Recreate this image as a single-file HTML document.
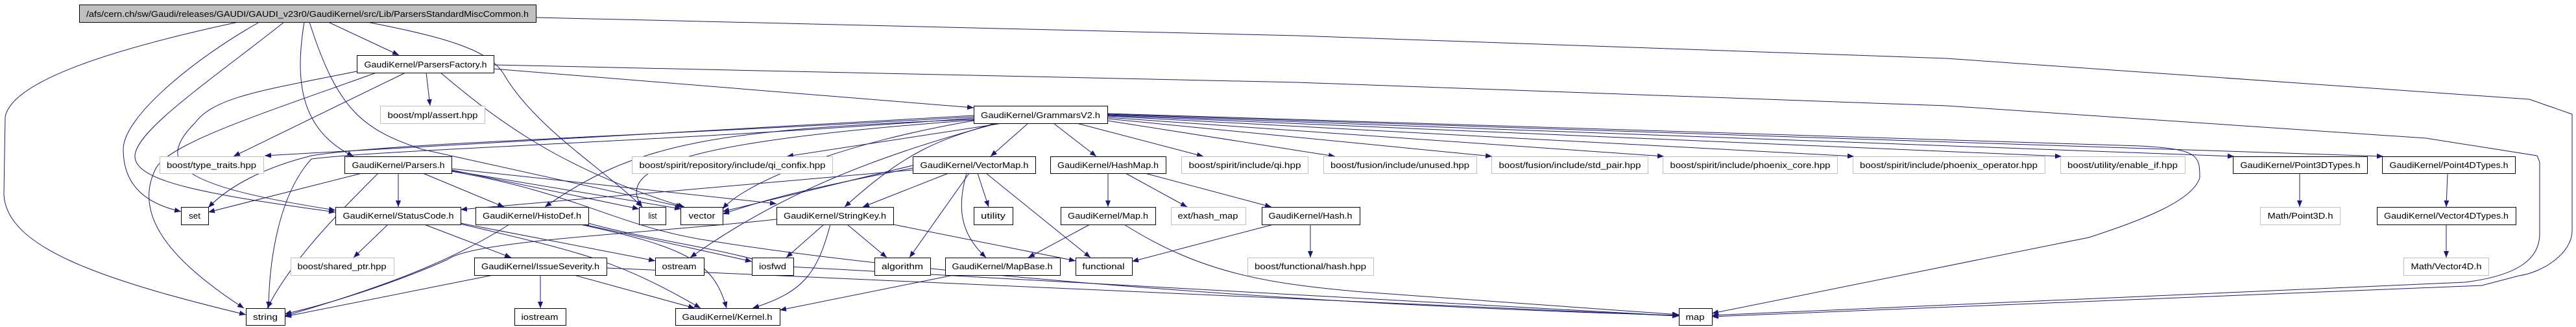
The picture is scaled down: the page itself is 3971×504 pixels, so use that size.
<!DOCTYPE html>
<html><head><meta charset="utf-8"><style>
html,body{margin:0;padding:0;background:#fff;}
svg{display:block;}
text{font-family:"Liberation Sans",sans-serif;font-size:13px;fill:#000;}
</style></head><body>
<svg width="3971" height="504" viewBox="0 0 3971 504" xmlns="http://www.w3.org/2000/svg">
<defs><marker id="a" markerUnits="userSpaceOnUse" markerWidth="10" markerHeight="8" refX="10" refY="4" orient="auto"><path d="M0,0 L10,4 L0,8 z" fill="#191970"/></marker></defs>
<g fill="none" stroke="#191970" stroke-width="1" marker-end="url(#a)">
<path d="M367,34 C200,70 20,120 8,180 L6,300 C10,380 150,430 379,485"/>
<path d="M400,34 C300,90 190,180 190,230 C190,290 230,315 279,326"/>
<path d="M438,34 C330,120 210,200 208,240 C206,280 320,300 517,327"/>
<path d="M469,34 C455,120 460,200 545,241"/>
<path d="M477,34 C520,170 560,200 650,230 L1052,319"/>
<path d="M506,34 L615,85"/>
<path d="M566,34 C700,60 760,80 780,120 C830,200 930,260 990,319"/>
<path d="M826,27 L1000,31 L2000,55 L3000,90 L3899,153 L3965,176 L3965,356 C3965,390 3920,420 3883,425 L3826,440 L2639,488"/>
<path d="M761,106 L1501,166"/>
<path d="M761,100 L2000,127 L3000,163 L3740,213 L3911,240 L3915,250 L3915,360 C3915,400 3880,425 3800,435 L2639,486"/>
<path d="M657,112 L663,163"/>
<path d="M625,112 L360,241"/>
<path d="M550,110 C400,140 330,150 300,190 C230,260 300,290 517,324"/>
<path d="M580,112 C420,170 260,220 240,260 C205,330 260,400 376,475"/>
<path d="M679,112 C760,180 860,260 1055,319"/>
<path d="M614,267 L614,319"/>
<path d="M652,267 L777,319"/>
<path d="M558,267 L321,327"/>
<path d="M583,267 C520,330 450,400 412,475"/>
<path d="M696,262 L985,322"/>
<path d="M696,263 L1050,322"/>
<path d="M696,260 L1197,314"/>
<path d="M696,264 C900,300 950,350 1100,372 C1400,420 2000,470 2588,486"/>
<path d="M1545,190 L1213,241"/>
<path d="M1585,190 L1527,241"/>
<path d="M1624,190 L1690,241"/>
<path d="M1660,190 L1855,241"/>
<path d="M1707,186 L2058,241"/>
<path d="M1707,183 L2300,241"/>
<path d="M1707,181 L2565,241"/>
<path d="M1707,179 L2858,241"/>
<path d="M1707,178 L3178,241"/>
<path d="M1707,177 L3444,241"/>
<path d="M1707,176 L3674,241"/>
<path d="M1707,175 L3300,225 C3390,230 3391,240 3391,274 C3380,310 3300,340 3220,366 L2639,483"/>
<path d="M1501,178 L408,240"/>
<path d="M1501,180 C1000,210 600,220 480,240 C400,260 350,290 321,320"/>
<path d="M1501,182 C1000,220 600,230 480,245 C430,300 415,400 414,475"/>
<path d="M1501,185 C1100,215 940,250 990,319"/>
<path d="M1501,184 C1100,200 980,220 840,319"/>
<path d="M1501,186 C1300,220 1150,280 1114,322"/>
<path d="M1534,190 C1450,215 1400,230 1302,319"/>
<path d="M1538,190 C1350,240 1200,300 1064,397"/>
<path d="M1407,255 L1114,326"/>
<path d="M1407,259 C1300,280 1200,300 1114,330"/>
<path d="M1407,262 L710,323"/>
<path d="M1462,267 L1330,319"/>
<path d="M1494,267 L1402,397"/>
<path d="M1507,267 L1524,319"/>
<path d="M1490,267 C1475,320 1480,360 1520,397"/>
<path d="M1520,267 L1681,397"/>
<path d="M1708,267 L1708,319"/>
<path d="M1735,267 L1830,319"/>
<path d="M1765,267 L1960,319"/>
<path d="M1680,346 L1585,397"/>
<path d="M1733,346 C1850,420 1950,437 2100,450 L2588,485"/>
<path d="M2020,346 L2020,397"/>
<path d="M1963,346 L1745,403"/>
<path d="M1270,346 L1212,397"/>
<path d="M1306,346 L1367,397"/>
<path d="M1280,346 C1260,420 1240,450 1160,475"/>
<path d="M1377,346 L1658,402"/>
<path d="M1197,338 C1000,360 730,370 690,400 C600,440 500,470 439,484"/>
<path d="M1470,424 L1202,478"/>
<path d="M598,346 L545,397"/>
<path d="M654,346 L788,397"/>
<path d="M710,344 L1010,402"/>
<path d="M705,344 C900,390 950,400 1080,475"/>
<path d="M785,346 C700,400 600,440 439,487"/>
<path d="M900,346 L1159,403"/>
<path d="M895,346 C1050,380 1100,400 1120,475"/>
<path d="M907,344 C1000,370 1100,380 1200,410 L2588,487"/>
<path d="M833,424 L833,475"/>
<path d="M760,424 L439,488"/>
<path d="M885,424 L1071,475"/>
<path d="M935,413 L2588,487"/>
<path d="M3545,267 L3545,319"/>
<path d="M3773,267 L3771,319"/>
<path d="M3771,346 L3771,397"/>
</g>
<g stroke-width="1">
<g fill="#fff" stroke="#000">
<rect x="122.5" y="7.5" width="704" height="27" fill="#bfbfbf"/>
<rect x="550.5" y="85.5" width="211" height="27"/>
<rect x="1501.5" y="163.5" width="206" height="27"/>
<rect x="531.5" y="241.5" width="165" height="26"/>
<rect x="1407.5" y="241.5" width="189" height="26"/>
<rect x="1619.5" y="241.5" width="178" height="26"/>
<rect x="3442.5" y="241.5" width="207" height="26"/>
<rect x="3672.5" y="241.5" width="205" height="26"/>
<rect x="279.5" y="319.5" width="42" height="27"/>
<rect x="517.5" y="319.5" width="193" height="27"/>
<rect x="733.5" y="319.5" width="174" height="27"/>
<rect x="985.5" y="319.5" width="41" height="27"/>
<rect x="1049.5" y="319.5" width="65" height="27"/>
<rect x="1197.5" y="319.5" width="180" height="27"/>
<rect x="1501.5" y="319.5" width="60" height="27"/>
<rect x="1635.5" y="319.5" width="146" height="27"/>
<rect x="1945.5" y="319.5" width="151" height="27"/>
<rect x="3664.5" y="319.5" width="214" height="27"/>
<rect x="731.5" y="397.5" width="204" height="27"/>
<rect x="1010.5" y="397.5" width="75" height="27"/>
<rect x="1159.5" y="397.5" width="64" height="27"/>
<rect x="1348.5" y="397.5" width="86" height="27"/>
<rect x="1457.5" y="397.5" width="177" height="27"/>
<rect x="1658.5" y="397.5" width="87" height="27"/>
<rect x="379.5" y="475.5" width="60" height="26"/>
<rect x="793.5" y="475.5" width="79" height="26"/>
<rect x="1041.5" y="475.5" width="161" height="26"/>
<rect x="2588.5" y="475.5" width="51" height="26"/>
</g>
<g fill="#fff" stroke="#bfbfbf">
<rect x="586.5" y="163.5" width="161" height="27"/>
<rect x="246.5" y="241.5" width="160" height="26"/>
<rect x="974.5" y="241.5" width="309" height="26"/>
<rect x="1821.5" y="241.5" width="195" height="26"/>
<rect x="2040.5" y="241.5" width="236" height="26"/>
<rect x="2299.5" y="241.5" width="241" height="26"/>
<rect x="2563.5" y="241.5" width="269" height="26"/>
<rect x="2856.5" y="241.5" width="296" height="26"/>
<rect x="3176.5" y="241.5" width="192" height="26"/>
<rect x="1805.5" y="319.5" width="115" height="27"/>
<rect x="3484.5" y="319.5" width="123" height="27"/>
<rect x="448.5" y="397.5" width="159" height="27"/>
<rect x="1923.5" y="397.5" width="194" height="27"/>
<rect x="3705.5" y="397.5" width="131" height="27"/>
</g>
</g>
<g text-anchor="middle" lengthAdjust="spacingAndGlyphs">
<text x="474" y="26" textLength="682" lengthAdjust="spacingAndGlyphs">/afs/cern.ch/sw/Gaudi/releases/GAUDI/GAUDI_v23r0/GaudiKernel/src/Lib/ParsersStandardMiscCommon.h</text>
<text x="656" y="104" textLength="189" lengthAdjust="spacingAndGlyphs">GaudiKernel/ParsersFactory.h</text>
<text x="1604" y="182" textLength="184" lengthAdjust="spacingAndGlyphs">GaudiKernel/GrammarsV2.h</text>
<text x="667" y="182" textLength="139" lengthAdjust="spacingAndGlyphs">boost/mpl/assert.hpp</text>
<text x="326" y="259" textLength="138" lengthAdjust="spacingAndGlyphs">boost/type_traits.hpp</text>
<text x="614" y="259" textLength="143" lengthAdjust="spacingAndGlyphs">GaudiKernel/Parsers.h</text>
<text x="1129" y="259" textLength="287" lengthAdjust="spacingAndGlyphs">boost/spirit/repository/include/qi_confix.hpp</text>
<text x="1502" y="259" textLength="167" lengthAdjust="spacingAndGlyphs">GaudiKernel/VectorMap.h</text>
<text x="1708" y="259" textLength="156" lengthAdjust="spacingAndGlyphs">GaudiKernel/HashMap.h</text>
<text x="1919" y="259" textLength="173" lengthAdjust="spacingAndGlyphs">boost/spirit/include/qi.hpp</text>
<text x="2158" y="259" textLength="214" lengthAdjust="spacingAndGlyphs">boost/fusion/include/unused.hpp</text>
<text x="2420" y="259" textLength="219" lengthAdjust="spacingAndGlyphs">boost/fusion/include/std_pair.hpp</text>
<text x="2698" y="259" textLength="247" lengthAdjust="spacingAndGlyphs">boost/spirit/include/phoenix_core.hpp</text>
<text x="3004" y="259" textLength="274" lengthAdjust="spacingAndGlyphs">boost/spirit/include/phoenix_operator.hpp</text>
<text x="3272" y="259" textLength="170" lengthAdjust="spacingAndGlyphs">boost/utility/enable_if.hpp</text>
<text x="3546" y="259" textLength="185" lengthAdjust="spacingAndGlyphs">GaudiKernel/Point3DTypes.h</text>
<text x="3775" y="259" textLength="183" lengthAdjust="spacingAndGlyphs">GaudiKernel/Point4DTypes.h</text>
<text x="300" y="337" textLength="18" lengthAdjust="spacingAndGlyphs">set</text>
<text x="614" y="337" textLength="171" lengthAdjust="spacingAndGlyphs">GaudiKernel/StatusCode.h</text>
<text x="820" y="337" textLength="152" lengthAdjust="spacingAndGlyphs">GaudiKernel/HistoDef.h</text>
<text x="1006" y="337" textLength="13" lengthAdjust="spacingAndGlyphs">list</text>
<text x="1082" y="337" textLength="41" lengthAdjust="spacingAndGlyphs">vector</text>
<text x="1287" y="337" textLength="158" lengthAdjust="spacingAndGlyphs">GaudiKernel/StringKey.h</text>
<text x="1531" y="337" textLength="38" lengthAdjust="spacingAndGlyphs">utility</text>
<text x="1708" y="337" textLength="124" lengthAdjust="spacingAndGlyphs">GaudiKernel/Map.h</text>
<text x="1862" y="337" textLength="93" lengthAdjust="spacingAndGlyphs">ext/hash_map</text>
<text x="2020" y="337" textLength="129" lengthAdjust="spacingAndGlyphs">GaudiKernel/Hash.h</text>
<text x="3546" y="337" textLength="101" lengthAdjust="spacingAndGlyphs">Math/Point3D.h</text>
<text x="3771" y="337" textLength="192" lengthAdjust="spacingAndGlyphs">GaudiKernel/Vector4DTypes.h</text>
<text x="527" y="415" textLength="137" lengthAdjust="spacingAndGlyphs">boost/shared_ptr.hpp</text>
<text x="833" y="415" textLength="182" lengthAdjust="spacingAndGlyphs">GaudiKernel/IssueSeverity.h</text>
<text x="1047" y="415" textLength="53" lengthAdjust="spacingAndGlyphs">ostream</text>
<text x="1191" y="415" textLength="42" lengthAdjust="spacingAndGlyphs">iosfwd</text>
<text x="1391" y="415" textLength="64" lengthAdjust="spacingAndGlyphs">algorithm</text>
<text x="1545" y="415" textLength="155" lengthAdjust="spacingAndGlyphs">GaudiKernel/MapBase.h</text>
<text x="1701" y="415" textLength="65" lengthAdjust="spacingAndGlyphs">functional</text>
<text x="2020" y="415" textLength="172" lengthAdjust="spacingAndGlyphs">boost/functional/hash.hpp</text>
<text x="3771" y="415" textLength="109" lengthAdjust="spacingAndGlyphs">Math/Vector4D.h</text>
<text x="409" y="493" textLength="38" lengthAdjust="spacingAndGlyphs">string</text>
<text x="832" y="493" textLength="57" lengthAdjust="spacingAndGlyphs">iostream</text>
<text x="1121" y="493" textLength="139" lengthAdjust="spacingAndGlyphs">GaudiKernel/Kernel.h</text>
<text x="2613" y="493" textLength="29" lengthAdjust="spacingAndGlyphs">map</text>
</g>
</svg>
</body></html>
